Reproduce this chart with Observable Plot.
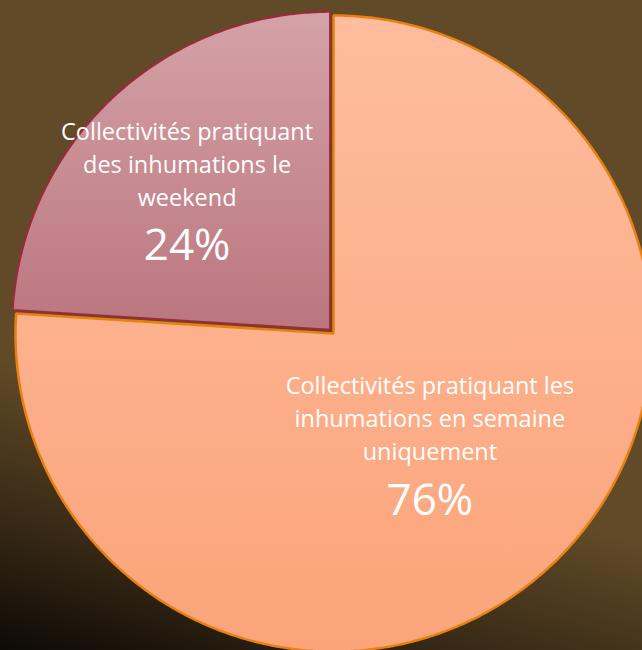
<!DOCTYPE html>
<html><head><meta charset="utf-8">
<script src="https://cdn.jsdelivr.net/npm/d3@7"></script>
<script src="https://cdn.jsdelivr.net/npm/@observablehq/plot@0.6"></script>
<style>
html,body{margin:0;padding:0;background:#614a27;}
#chart{width:642px;height:650px;}
#chart text{font-variant-ligatures:none;}
</style>
</head><body><div id="chart"></div>
<script>
// ---- data ----
const categories = [
  "Collectivités pratiquant les inhumations en semaine uniquement",
  "Collectivités pratiquant des inhumations le weekend"
];
const labelLines = [
  "Collectivités pratiquant les\ninhumations en semaine\nuniquement",
  "Collectivités pratiquant\ndes inhumations le\nweekend"
];
const values = [76, 24];

// ---- layout / style ----
const W = 642, H = 650, R = 318, CX = 333, CY = 333;
const layout = {
  explode: [0, 5],
  labelFrac: [0.475, 0.62],
  nudge: [[-7, 6], [-8, 9]],
  fills: ["url(#gBig)", "url(#gSmall)"],
  strokes: ["#e9800f", "#9c2a3a"],
  strokeWidths: [2.5, 2]
};
const FONT = "'Open Sans', Lato, sans-serif";

const arcs = d3.pie().sort(null).value(d => d)(values);
const slices = arcs.map((a, i) => {
  const mid = (a.startAngle + a.endAngle) / 2;
  const off = layout.explode[i] / R;
  const ox = off * Math.sin(mid), oy = off * Math.cos(mid);
  const n = Math.ceil((a.endAngle - a.startAngle) / (Math.PI / 360));
  const pts = [{x: ox, y: oy}];
  for (let k = 0; k <= n; k++) {
    const t = a.startAngle + (a.endAngle - a.startAngle) * k / n;
    pts.push({x: ox + Math.sin(t), y: oy + Math.cos(t)});
  }
  const lf = layout.labelFrac[i];
  return {
    i, pts,
    label: [{x: ox + lf * Math.sin(mid), y: oy + lf * Math.cos(mid),
             name: labelLines[i], pct: `${values[i]}%`, cat: categories[i]}]
  };
});

const marks = [];
slices.forEach(s => {
  marks.push(Plot.line(s.pts, {
    x: "x", y: "y", curve: "linear-closed",
    fill: layout.fills[s.i], stroke: layout.strokes[s.i],
    strokeWidth: layout.strokeWidths[s.i], strokeLinejoin: "miter"
  }));
});
slices.forEach(s => {
  const [nx, ny] = layout.nudge[s.i];
  marks.push(Plot.text(s.label, {
    x: "x", y: "y", text: "name", lineAnchor: "bottom",
    dx: nx, dy: ny + 10.5, fill: "white", fontSize: 23.5, lineHeight: 1.4,
    fontFamily: FONT
  }));
  marks.push(Plot.text(s.label, {
    x: "x", y: "y", text: "pct", lineAnchor: "bottom",
    dx: nx, dy: ny + 65, fill: "white", fontSize: 44,
    fontFamily: FONT
  }));
});

const svg = Plot.plot({
  width: W, height: H, margin: 0,
  x: {domain: [-CX / R, (W - CX) / R], range: [0, W], axis: null},
  y: {domain: [-(H - CY) / R, CY / R], range: [H, 0], axis: null},
  style: {
    background: "linear-gradient(196deg, #614a27 0%, #614a27 65%, #3a2b17 83%, #0e0a06 100%)",
    overflow: "visible"
  },
  marks
});

const defs = d3.select(svg).insert("defs", ":first-child");
const g1 = defs.append("linearGradient").attr("id", "gBig").attr("x1", 0).attr("y1", 0).attr("x2", 0).attr("y2", 1);
g1.append("stop").attr("offset", "0%").attr("stop-color", "#febd9e");
g1.append("stop").attr("offset", "100%").attr("stop-color", "#fba47a");
const g2 = defs.append("linearGradient").attr("id", "gSmall").attr("x1", 0).attr("y1", 0).attr("x2", 0).attr("y2", 1);
g2.append("stop").attr("offset", "0%").attr("stop-color", "#d4a2a7");
g2.append("stop").attr("offset", "100%").attr("stop-color", "#bb767e");

document.getElementById("chart").appendChild(svg);
</script>
</body></html>
